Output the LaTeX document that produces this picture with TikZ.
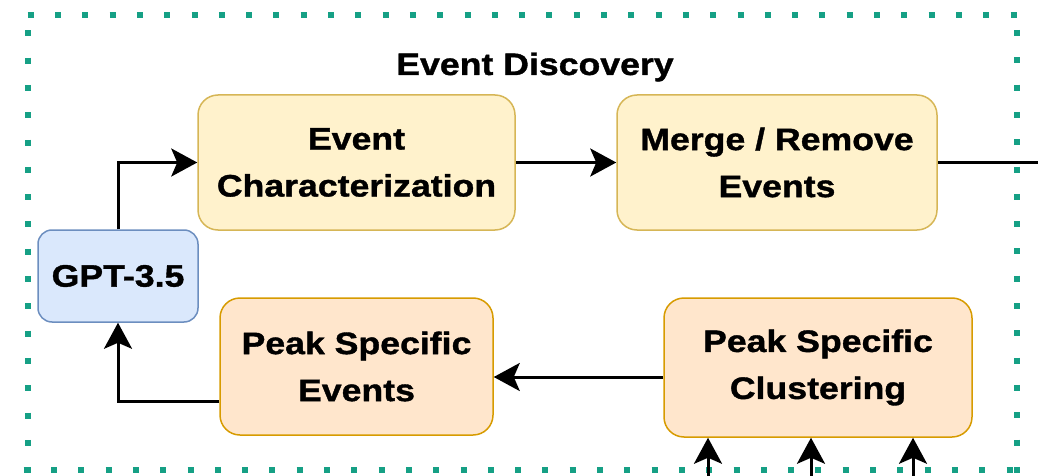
\documentclass[tikz,border=0pt]{standalone}
\usepackage{fontspec}
\setmainfont{Liberation Sans}[FakeStretch=1.15, BoldFeatures={FakeBold=1.2}]
\usetikzlibrary{arrows.meta,calc}

\definecolor{frameteal}{HTML}{16A085}
\definecolor{yellowfill}{HTML}{FFF2CC}
\definecolor{yellowline}{HTML}{D6B656}
\definecolor{orangefill}{HTML}{FFE6CC}
\definecolor{orangeline}{HTML}{D79B00}
\definecolor{bluefill}{HTML}{DAE8FC}
\definecolor{blueline}{HTML}{6C8EBF}

\tikzset{
  boxlabel/.style={font=\fontsize{31}{47}\selectfont\bfseries, align=center, inner sep=0pt},
  stagebox/.style={boxlabel, draw=yellowline, fill=yellowfill, line width=1.5pt,
    rounded corners=20pt},
  peakbox/.style={boxlabel, draw=orangeline, fill=orangefill, line width=1.5pt,
    rounded corners=20pt},
  llmbox/.style={boxlabel, draw=blueline, fill=bluefill, line width=1.5pt,
    rounded corners=14pt},
  flow/.style={line width=3pt, black,
    -{Stealth[length=26pt 0 0, width=28pt 0 0, inset=6pt 0 0]}},
  plainflow/.style={line width=3pt, black},
  framedots/.style={frameteal, line width=6pt, dash pattern=on 6pt off 21.3pt}
}

\begin{document}
\begin{tikzpicture}[x=1pt, y=-1pt]
  \useasboundingbox (0,0) rectangle (1038,476);

  % dotted frame, one side at a time
  \draw[framedots] (27.7,15) -- (1021,15);
  \draw[framedots] (27.5,30.3) -- (27.5,473);
  \draw[framedots] (1017,30) -- (1017,473);
  \draw[framedots] (23.7,469.5) -- (1021,469.5);

  % title
  \node[boxlabel, anchor=base] (title) at (535,75) {Event Discovery};

  % stages
  \node[stagebox, minimum width=317pt, minimum height=135pt] (ec) at (356.5,162.5)
    {Event\\Characterization};
  \node[stagebox, minimum width=320pt, minimum height=135pt] (mr) at (777,162.5)
    {Merge / Remove\\Events};
  \node[llmbox, minimum width=160pt, minimum height=92pt] (gpt) at (118,276)
    {GPT-3.5};
  \node[peakbox, minimum width=273pt, minimum height=137pt] (pe) at (356.5,366.5)
    {Peak Specific\\Events};
  \node[peakbox, minimum width=308pt, minimum height=139pt] (cl) at (818,367.5)
    {Peak Specific\\Clustering};

  % helper coordinates
  \coordinate (exit) at (1038,162.5);
  \coordinate (backrow) at (0,377);
  \coordinate (uprow) at (0,401);
  \coordinate (inA) at (708,476);
  \coordinate (inB) at (811,476);
  \coordinate (inC) at (913,476);

  % connectors
  \draw[flow] (gpt.north) |- (ec.west);
  \draw[flow] (ec.east) -- (mr.west);
  \draw[plainflow] (mr.east) -- (exit);
  \draw[flow] (cl.west |- backrow) -- (pe.east |- backrow);
  \draw[flow] (pe.west |- uprow) -| (gpt.south);
  \draw[flow] (inA) -- (inA |- cl.south);
  \draw[flow] (inB) -- (inB |- cl.south);
  \draw[flow] (inC) -- (inC |- cl.south);
\end{tikzpicture}
\end{document}
